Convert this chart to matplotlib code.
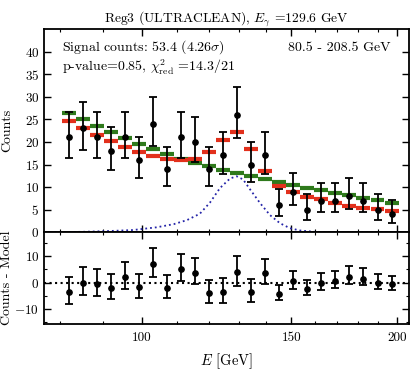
import numpy as np
import matplotlib
matplotlib.use("Agg")
import matplotlib.pyplot as plt
from matplotlib.ticker import FixedLocator, FixedFormatter, NullFormatter, MultipleLocator

plt.rcParams["font.family"] = "serif"
plt.rcParams["font.serif"] = ["cmr10", "DejaVu Serif"]
plt.rcParams["mathtext.fontset"] = "cm"
plt.rcParams["axes.unicode_minus"] = False
plt.rcParams["axes.formatter.use_mathtext"] = True

# bin centres (GeV)
energy = [82.05, 85.23, 88.54, 91.98, 95.55, 99.26, 103.11, 107.11, 111.27, 115.59,
          120.08, 124.74, 129.58, 134.61, 139.84, 145.27, 150.91, 156.77, 162.85,
          169.17, 175.74, 182.56, 189.65, 197.01]
counts = [21, 23, 21, 18, 21, 16, 24, 14, 21, 20, 14, 17, 26, 15, 17, 6, 9, 5, 7, 7,
          8, 7, 5, 4]
err_lo = [4.6, 4.8, 4.6, 4.2, 4.6, 4.0, 4.9, 3.7, 4.6, 4.4, 3.7, 4.1, 5.1, 3.8, 4.1,
          2.4, 3.0, 2.2, 2.6, 2.6, 2.8, 2.6, 2.2, 1.9]
err_hi = [5.7, 5.9, 5.7, 5.3, 5.7, 5.1, 6.0, 4.8, 5.7, 5.6, 4.8, 5.2, 6.2, 5.0, 5.2,
          3.6, 4.1, 3.4, 3.8, 3.8, 4.0, 3.8, 3.4, 3.2]
model_sig = [24.6, 23.0, 21.5, 20.2, 18.9, 17.7, 16.9, 16.2, 16.1, 16.2, 17.8, 20.4,
             22.1, 18.5, 13.6, 10.3, 8.9, 7.9, 7.3, 6.5, 5.9, 5.4, 5.1, 4.8]
model_bkg = [26.5, 25.0, 23.6, 22.2, 20.9, 19.6, 18.4, 17.3, 16.3, 15.4, 14.6, 13.8,
             13.1, 12.4, 11.8, 11.1, 10.4, 9.8, 9.3, 8.7, 8.2, 7.7, 7.2, 6.5]
resid = [-3.5, 0.0, -0.5, -2.1, 2.1, -1.75, 7.1, -2.1, 5.0, 3.75, -3.9, -3.5, 3.9,
         -3.5, 3.6, -4.4, 0.4, -2.6, -0.1, 0.6, 2.1, 1.5, -0.1, -0.75]

# signal line (dotted)
line_e = [76.8, 85, 92, 97.6, 104, 109, 113, 117, 120.3, 123.6, 127, 129.3, 131.6,
          134, 137.9, 141.6, 145.5, 149.5, 153.6, 160, 170, 206.5]
line_s = [0.02, 0.1, 0.3, 0.5, 1.1, 1.8, 2.7, 4.1, 6.6, 9.8, 11.9, 12.4, 11.7, 9.6,
          6.4, 3.8, 2.0, 0.9, 0.4, 0.1, 0.02, 0.0]

E = np.array(energy)
half = 1.0192  # half bin width as a ratio (log bins)

fig = plt.figure(figsize=(4.17, 3.74), dpi=100)
ax = fig.add_axes([0.1055, 0.3789, 0.8753, 0.5436])
axr = fig.add_axes([0.1055, 0.1337, 0.8753, 0.2452], sharex=ax)

ax.hlines(model_bkg, E / half, E * half, color="#2f7a1c", lw=3.0, zorder=2)
ax.hlines(model_sig, E / half, E * half, color="#e2301c", lw=3.0, zorder=3)
ax.plot(line_e, line_s, ":", color="#2424a8", lw=1.3, zorder=2)
ax.errorbar(E, counts, yerr=[err_lo, err_hi], fmt="o", color="black", ms=3.8,
            elinewidth=1.3, capsize=3.2, capthick=1.3, zorder=5)

axr.axhline(0, ls=":", color="black", lw=1.5, zorder=1)
axr.errorbar(E, resid, yerr=[err_lo, err_hi], fmt="o", color="black", ms=3.8,
             elinewidth=1.3, capsize=3.2, capthick=1.3, zorder=5)

ax.set_xscale("log")
ax.set_xlim(76.6, 206.6)
ax.set_ylim(0, 45)
axr.set_ylim(-15.7, 19)

for a in (ax, axr):
    a.xaxis.set_major_locator(FixedLocator([100, 150, 200]))
    a.xaxis.set_minor_locator(FixedLocator([80, 90, 110, 120, 130, 140, 160, 170, 180, 190]))
    a.xaxis.set_minor_formatter(NullFormatter())
    a.tick_params(which="both", direction="in", top=True, right=True, labelsize=9.5)
    a.tick_params(which="major", length=5, width=1)
    a.tick_params(which="minor", length=2.5, width=0.8)
    for s in a.spines.values():
        s.set_linewidth(1.3)

ax.yaxis.set_major_locator(FixedLocator([0, 5, 10, 15, 20, 25, 30, 35, 40]))
ax.tick_params(labelbottom=False)
axr.xaxis.set_major_formatter(FixedFormatter(["100", "150", "200"]))
axr.yaxis.set_major_locator(FixedLocator([-10, 0, 10]))
axr.yaxis.set_minor_locator(MultipleLocator(5))
axr.tick_params(axis="x", pad=6)

ax.set_ylabel("Counts", fontsize=10)
axr.set_ylabel("Counts - Model", fontsize=10)
ax.yaxis.set_label_coords(-0.085, 0.5)
axr.yaxis.set_label_coords(-0.085, 0.5)
axr.set_xlabel("$E$ [GeV]", fontsize=10.5)
axr.xaxis.set_label_coords(0.5, -0.30)

ax.set_title(r"Reg3 (ULTRACLEAN), $E_\gamma$ =129.6 GeV", fontsize=9.8, pad=5)
ax.text(0.049, 0.893, r"Signal counts: 53.4 (4.26$\sigma$)", transform=ax.transAxes,
        fontsize=10, va="baseline")
ax.text(0.049, 0.79, r"p-value=0.85, $\chi^2_{\rm red}$ =14.3/21", transform=ax.transAxes,
        fontsize=10, va="baseline")
ax.text(0.948, 0.893, "80.5 - 208.5 GeV", transform=ax.transAxes, fontsize=10,
        va="baseline", ha="right")

fig.savefig("out.png", dpi=100)
